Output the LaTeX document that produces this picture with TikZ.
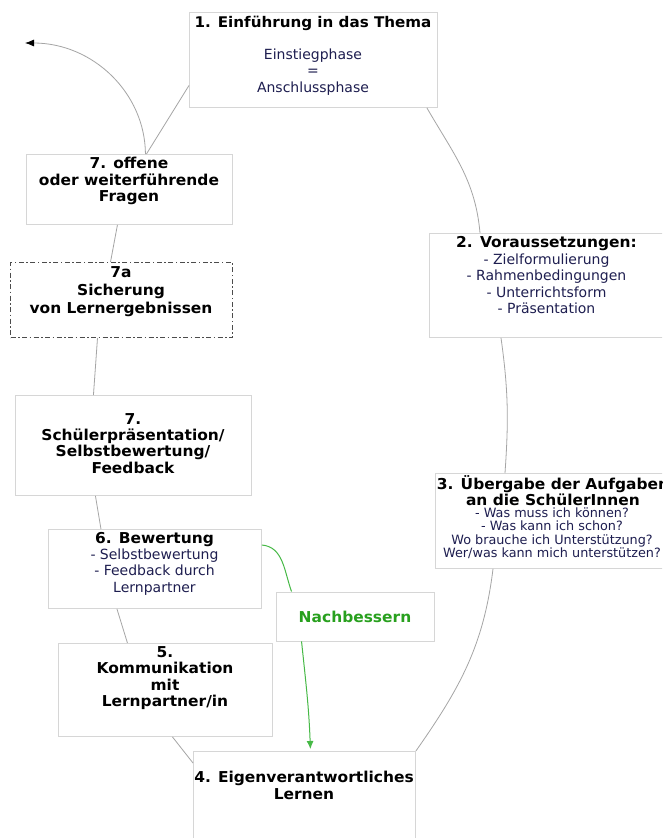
\documentclass[tikz,border=0pt]{standalone}
\usepackage{fontspec}
\setmainfont{DejaVu Sans}[BoldFeatures={FakeStretch=1.03}]
\usetikzlibrary{arrows.meta}

\definecolor{boxline}{RGB}{214,214,214}
\definecolor{linkgray}{RGB}{165,165,165}
\definecolor{txtblue}{RGB}{30,30,80}
\definecolor{fixgreen}{RGB}{70,185,70}
\definecolor{fixtext}{RGB}{40,160,30}

\tikzset{
  box/.style={draw=boxline, fill=white, line width=0.9pt, inner sep=0pt, anchor=north west},
  head/.style={anchor=north, align=center, inner sep=0pt, font=\bfseries\fontsize{15}{16.5}\selectfont},
  sub/.style={anchor=north, align=center, inner sep=0pt, text=txtblue, font=\fontsize{14}{16.5}\selectfont},
  link/.style={draw=linkgray, line width=0.8pt},
  fix/.style={draw=fixgreen, line width=1pt},
}

\begin{document}
\begin{tikzpicture}[x=1pt, y=1pt]
\useasboundingbox [fill=white] (0, 0) rectangle (662, -838);
\clip (0, 0) rectangle (662, -838);

% boxes
\node [box, minimum width=248pt, minimum height=95pt] (b1) at (189, -12) {};
\node [box, minimum width=235pt, minimum height=104pt] (b2) at (429, -233) {};
\node [box, minimum width=234pt, minimum height=95pt] (b3) at (435, -473) {};
\node [box, minimum width=222pt, minimum height=110pt] (b4) at (193, -751) {};
\node [box, minimum width=214pt, minimum height=93pt] (b5) at (58, -643) {};
\node [box, minimum width=213pt, minimum height=79pt] (b6) at (48, -529) {};
\node [box, minimum width=236pt, minimum height=100pt] (b7) at (15, -395) {};
\node [box, draw=black!70, line width=1pt, dash pattern=on 5pt off 2.5pt on 1.5pt off 2.5pt,
       minimum width=222pt, minimum height=75pt] (b7a) at (10, -262) {};
\node [box, minimum width=206pt, minimum height=70pt] (b7o) at (26, -154) {};
\node [box, minimum width=158pt, minimum height=49pt, anchor=center, text=fixtext,
       font=\bfseries\fontsize{15}{16.5}\selectfont] (nb) at (355, -616.5) {Nachbessern};

% texts
\node [head, font=\bfseries\fontsize{14.7}{16.5}\selectfont] (t1) at (313, -16) {1. Einführung in das Thema};
\node [sub] (s1) at (313, -48.5) {Einstiegphase\\=\\Anschlussphase};
\node [head] (t2) at (546.5, -236) {2. Voraussetzungen:};
\node [sub] (s2) at (546.5, -253.5) {- Zielformulierung\\- Rahmenbedingungen\\- Unterrichtsform\\- Präsentation};
\node [head, font=\bfseries\fontsize{15}{14}\selectfont] (t3) at (553, -475.5) {3. Übergabe der Aufgaben\\an die SchülerInnen};
\node [sub, font=\fontsize{12.8}{13.4}\selectfont] (s3) at (552, -507.5) {- Was muss ich können?\\- Was kann ich schon?\\Wo brauche ich Unterstützung?\\Wer/was kann mich unterstützen?};
\node [head] (t4) at (304, -771) {4. Eigenverantwortliches\\Lernen};
\node [head] (t5) at (165, -646) {5.\\Kommunikation\\mit\\Lernpartner/in};
\node [head] (t6) at (154.5, -532) {6. Bewertung};
\node [sub] (s6) at (154.5, -548.5) {- Selbstbewertung\\- Feedback durch\\Lernpartner};
\node [head, font=\bfseries\fontsize{15}{16.4}\selectfont] (t7) at (133, -413) {7.\\Schülerpräsentation/\\Selbstbewertung/\\Feedback};
\node [head, font=\bfseries\fontsize{15}{18}\selectfont] (t7a) at (121, -266) {7a\\Sicherung\\von Lernergebnissen};
\node [head] (t7o) at (129, -157) {7. offene\\oder weiterführende\\Fragen};

% cycle
\coordinate (back) at (25, -43);
\draw [link] ([yshift=-25.5pt]b1.west) -- ([xshift=17pt]b7o.north);
\draw [link, -{Latex[length=9pt, width=7pt, color=black]}] ([xshift=16pt]b7o.north)
      .. controls (145, -93) and (93, -43) .. (back);
\draw [link] ([xshift=-12pt]b7o.south) -- ([xshift=-11pt]b7a.north);
\draw [link] ([xshift=-24pt]b7a.south) -- ([xshift=-40pt]b7.north);
\draw [link] ([xshift=-38pt]b7.south) -- ([xshift=-54pt]b6.north);
\draw [link] ([xshift=-38pt]b6.south) -- ([xshift=-38pt]b5.north);
\draw [link] ([xshift=7pt]b5.south) -- ([yshift=-12pt]b4.north west);
\draw [link] ([xshift=-11pt]b1.south east) to [out=-60, in=95] ([xshift=51pt]b2.north west);
\draw [link] ([xshift=72pt]b2.south west) to [out=-82, in=86] ([xshift=70pt]b3.north west);
\draw [link] ([xshift=58pt]b3.south west) to [out=-97, in=55] (b4.north east);

% Nachbessern
\draw [fix] ([yshift=-16pt]b6.north east) to [out=-5, in=110] ([xshift=16pt]nb.north west);
\draw [fix, -{Latex[length=8pt, width=7pt]}, shorten >=2pt] ([xshift=26pt]nb.south west)
      to [out=-84, in=92] ([xshift=6pt]b4.north);
\end{tikzpicture}
\end{document}
